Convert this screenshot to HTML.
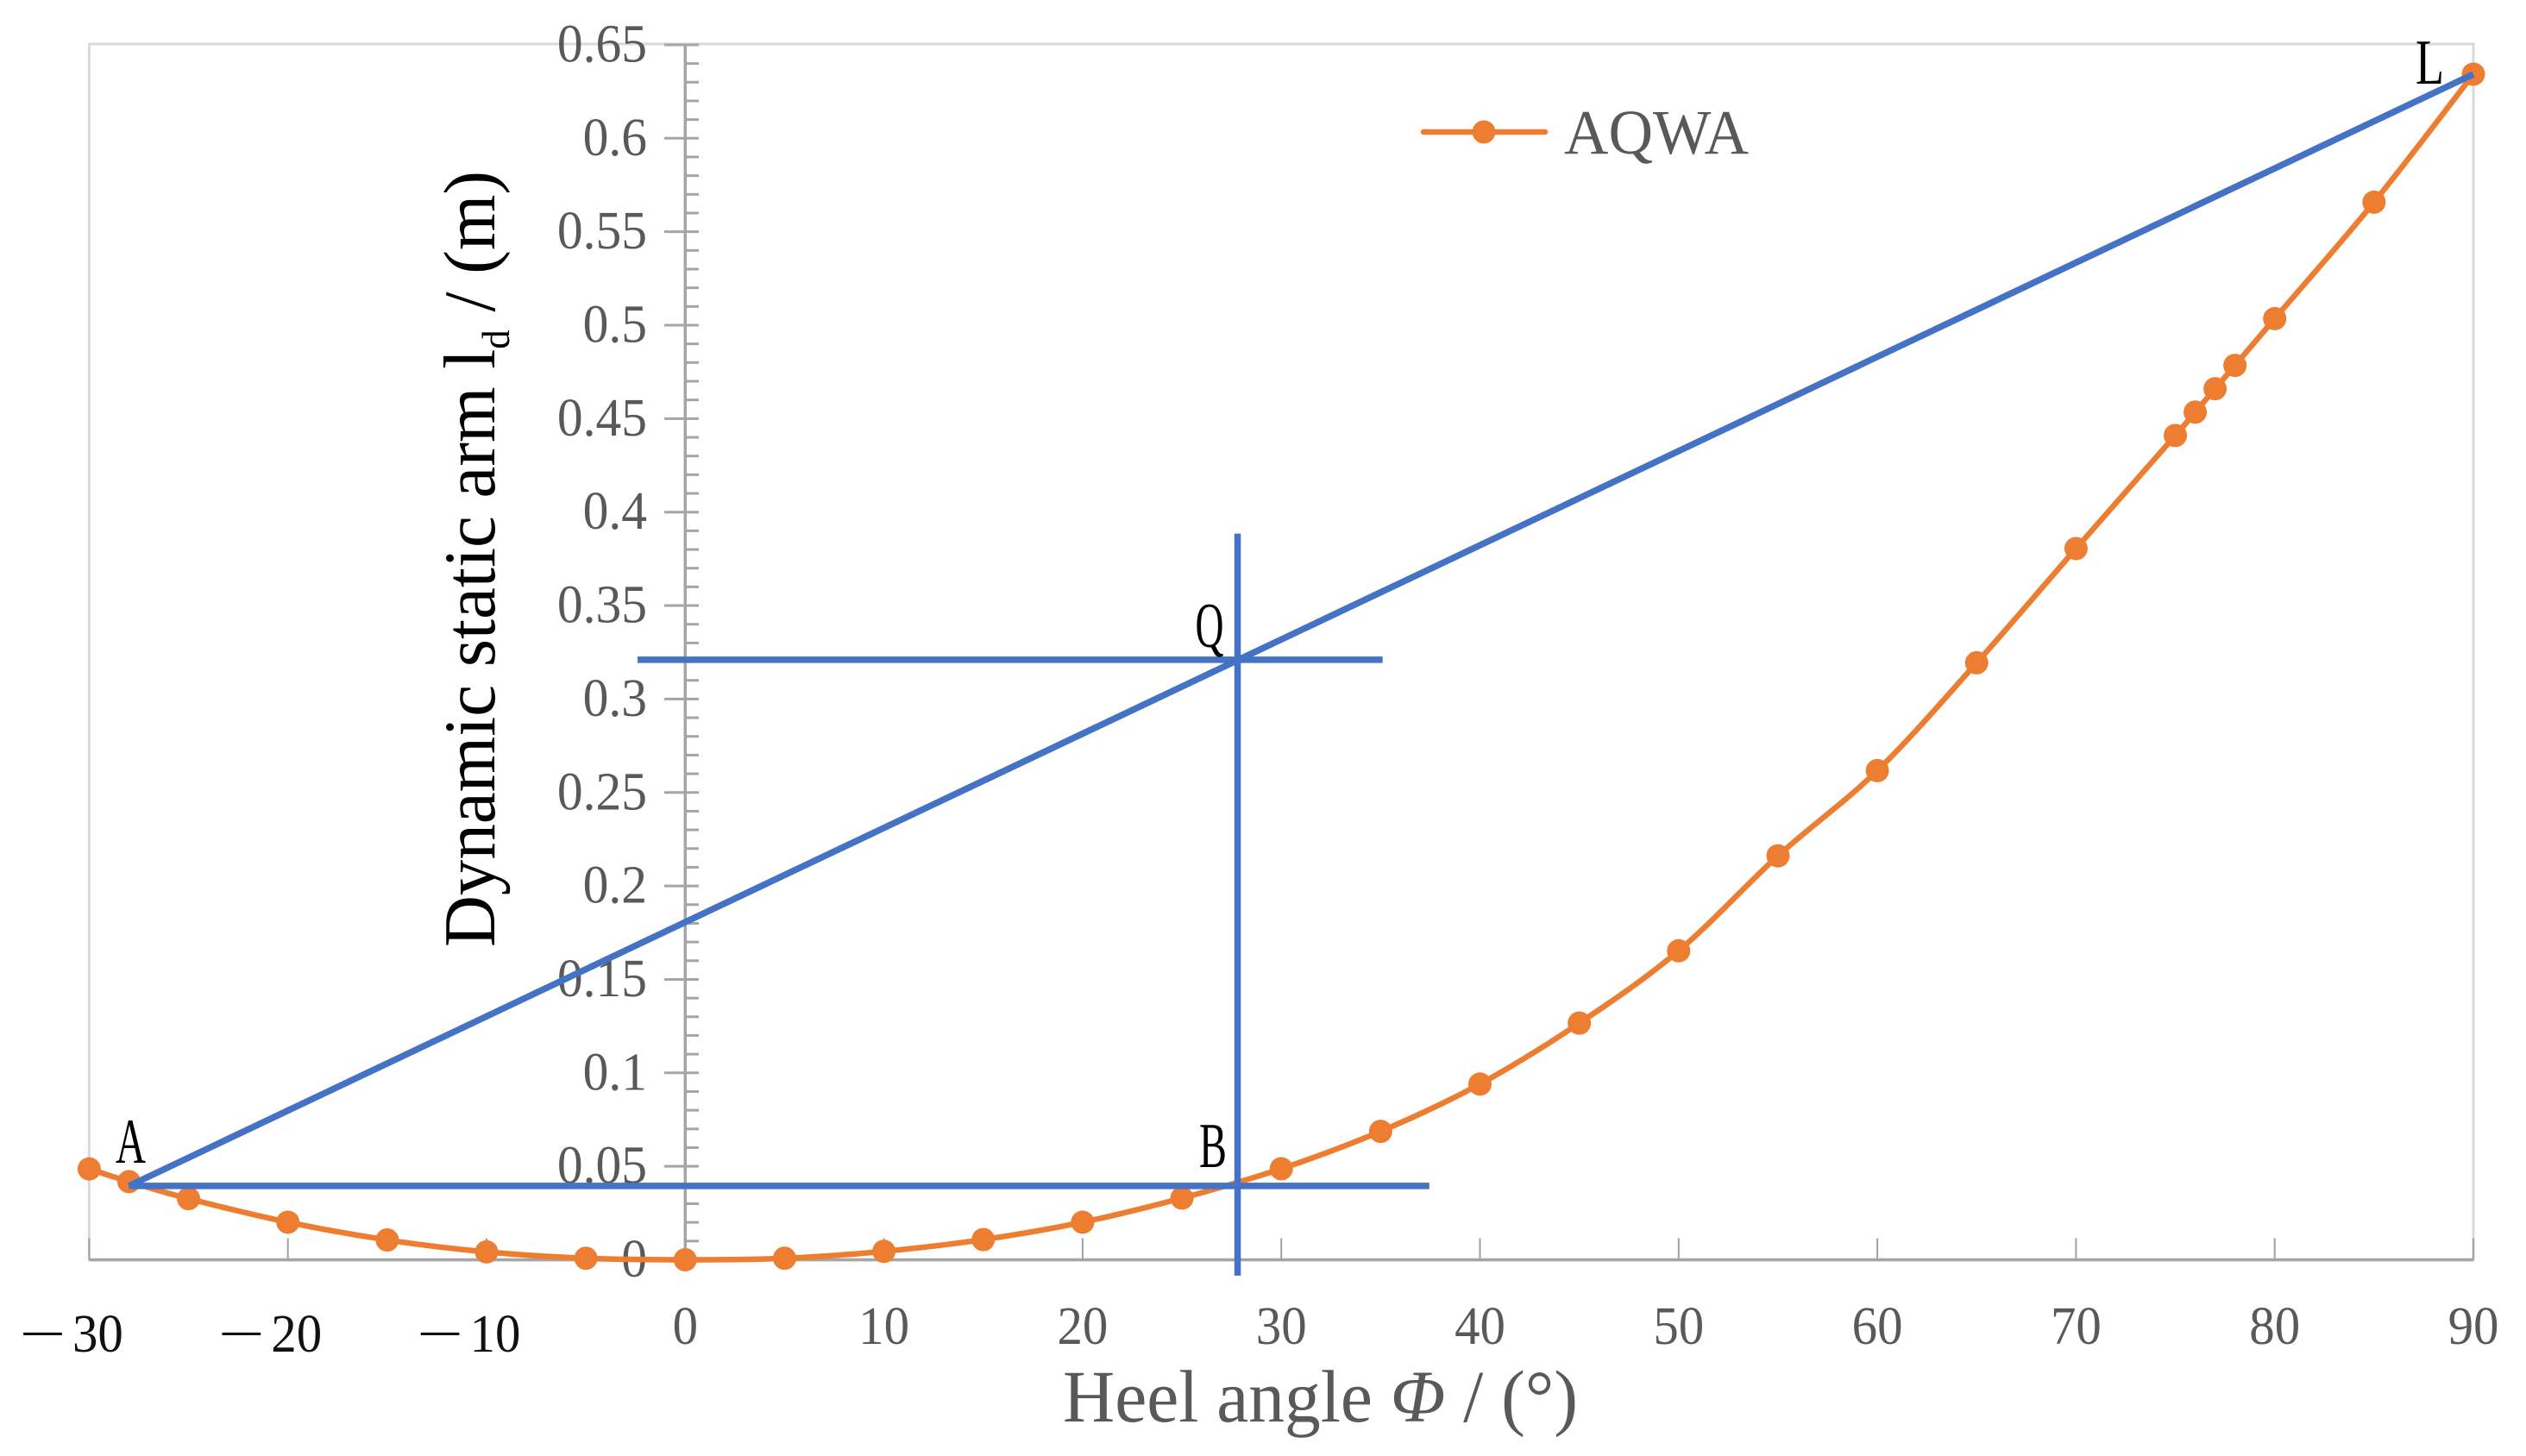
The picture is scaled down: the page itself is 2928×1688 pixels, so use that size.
<!DOCTYPE html>
<html lang="en">
<head>
<meta charset="utf-8">
<title>Dynamic static arm vs heel angle</title>
<style>
html,body{margin:0;padding:0;background:#fff;width:2928px;height:1688px;overflow:hidden}
svg{display:block}
text{font-family:"Liberation Serif",serif}
</style>
</head>
<body>
<svg id="chart" xmlns="http://www.w3.org/2000/svg" width="2928" height="1688" viewBox="0 0 2928 1688">
  <rect x="103.3" y="51" width="2763.7" height="1410" fill="none" stroke="#d9d9d9" stroke-width="3"/>
  <g id="axes"></g>
  <g id="series"></g>
  <g id="construction"></g>
  <g id="points"></g>
  <g>
    <line x1="1650" y1="153" x2="1791" y2="153" stroke="#ed7d31" stroke-width="6.5" stroke-linecap="round"/>
    <circle cx="1720" cy="153" r="13.5" fill="#ed7d31"/>
    <text x="1813" y="178" font-size="73" fill="#595959" textLength="214" lengthAdjust="spacingAndGlyphs">AQWA</text>
  </g>
  <text x="1232" y="1648" font-size="86" fill="#595959" textLength="597" lengthAdjust="spacingAndGlyphs">Heel angle <tspan font-style="italic">Φ</tspan> / (°)</text>
  <text transform="translate(573,1098) rotate(-90)" font-size="85" fill="#000" textLength="900" lengthAdjust="spacingAndGlyphs">Dynamic static arm l<tspan font-size="46" dy="17">d</tspan><tspan dy="-17"> / (m)</tspan></text>
</svg>
<script>
const xTickValues = [-30,-20,-10,0,10,20,30,40,50,60,70,80,90];
const yTickLabels = ["0","0.05","0.1","0.15","0.2","0.25","0.3","0.35","0.4","0.45","0.5","0.55","0.6","0.65"];
const yMinorTicks = [0.01,0.02,0.03,0.04];
const heelAngles = [-30,-28,-25,-20,-15,-10,-5,0,5,10,15,20,25,30,35,40,45,50,55,60,65,70,75,76,77,78,80,85,90];
const dynamicArm = [0.0486,0.0418,0.0327,0.0201,0.0106,0.0042,0.0008,0,0.0008,0.0045,0.0108,0.0201,0.033,0.0487,0.0687,0.094,0.1266,0.1653,0.2161,0.2617,0.3194,0.3805,0.441,0.4535,0.466,0.4785,0.5035,0.5658,0.6343];
const tangentX = [-28,90];
const tangentY = [0.0395,0.6343];
const baseLineX = [-28,37.45];
const baseLineY = [0.0395,0.0395];
const levelLineX = [-2.4,35.1];
const levelLineY = [0.321,0.321];
const verticalLineX = [27.8,27.8];
const verticalLineY = [-0.0085,0.3885];
const pointNames = ["A","B","Q","L"];
const pointAnchorX = [-28,27.8,27.8,90];
const pointAnchorY = [0.0395,0.0395,0.321,0.6343];

const NS = "http://www.w3.org/2000/svg";
const sx = v => 794.3 + v * 23.03;
const sy = v => 1460.5 - v * 2167;
const axes = document.getElementById("axes");
const series = document.getElementById("series");
const construction = document.getElementById("construction");
const points = document.getElementById("points");

function make(tag, attrs, parent) {
  const el = document.createElementNS(NS, tag);
  for (const k in attrs) el.setAttribute(k, attrs[k]);
  parent.appendChild(el);
  return el;
}

const xAxis = make("line", {x1:sx(-30),y1:sy(0),x2:sx(90),y2:sy(0),stroke:"#a5a5a5","stroke-width":3.5}, axes);


const yAxis = make("line", {x1:sx(0),y1:sy(0),x2:sx(0),y2:sy(0.65),stroke:"#a5a5a5","stroke-width":3.5}, axes);



xTickValues.forEach(v => {
  const tick = make("line", {x1:sx(v),y1:sy(0),x2:sx(v),y2:sy(0)-25,stroke:"#a0a0a0","stroke-width":2}, axes);
  
  
  const neg = v < 0;
  const label = make("text", {"font-size":62,fill:neg?"#111":"#595959","text-anchor":"middle",
    transform:"translate(" + (neg ? sx(v) + 10 : sx(v)) + "," + (neg ? 1567 : 1558) + ") scale(.95,1)"}, axes);
  label.textContent = String(Math.abs(v));
  
  
  if (neg) {
    const minus = make("text", {"font-size":62,fill:"#111","text-anchor":"middle",
      transform:"translate(" + (sx(v) - 54) + ",1567) scale(1.55,1)"}, axes);
    minus.textContent = "\u2212";
    
    
  }
});

yTickLabels.forEach(s => {
  const v = parseFloat(s);
  const tick = make("line", {x1:770,y1:sy(v),x2:810,y2:sy(v),stroke:"#a5a5a5","stroke-width":3}, axes);
  
  
  const label = make("text", {"font-size":62,fill:"#595959","text-anchor":"end",
    transform:"translate(750," + (sy(v) + 19.5) + ") scale(.96,1)"}, axes);
  label.textContent = s;
  
  
  if (v < 0.65) {
    yMinorTicks.forEach(m => {
      const minor = make("line", {x1:795,y1:sy(v + m),x2:810,y2:sy(v + m),stroke:"#a5a5a5","stroke-width":3}, axes);
      
      
    });
  }
});

/* smooth curve through the data (Catmull-Rom) */
const px = heelAngles.map(sx);
const py = dynamicArm.map(sy);
let d = "M" + px[0] + " " + py[0];
for (let i = 0; i < px.length - 1; i++) {
  const i0 = Math.max(i - 1, 0), i3 = Math.min(i + 2, px.length - 1);
  const c1x = px[i] + (px[i + 1] - px[i0]) / 6, c1y = py[i] + (py[i + 1] - py[i0]) / 6;
  const c2x = px[i + 1] - (px[i3] - px[i]) / 6, c2y = py[i + 1] - (py[i3] - py[i]) / 6;
  d += "C" + c1x + " " + c1y + " " + c2x + " " + c2y + " " + px[i + 1] + " " + py[i + 1];
}
const curve = make("path", {d:d,fill:"none",stroke:"#ed7d31","stroke-width":6.5,"stroke-linejoin":"round"}, series);


heelAngles.forEach((a, i) => {
  const marker = make("circle", {cx:sx(a),cy:sy(dynamicArm[i]),r:13.5,fill:"#ed7d31"}, series);
  
  
});

function blueLine(xs, ys, name) {
  const line = make("line", {x1:sx(xs[0]),y1:sy(ys[0]),x2:sx(xs[1]),y2:sy(ys[1]),stroke:"#4472c4","stroke-width":7.5}, construction);
  
  
}
blueLine(tangentX, tangentY, 'tangent-line-al');
blueLine(baseLineX, baseLineY, 'horizontal-line-ab');
blueLine(levelLineX, levelLineY, 'horizontal-line-q');
blueLine(verticalLineX, verticalLineY, 'vertical-line-bq');

const pointDx = [-15.5,-44.5,-49,-67];
const pointDy = [-27,-22,-15,11];
const pointWidths = [35,32,33,33];
pointNames.forEach((n, i) => {
  const label = make("text", {x:sx(pointAnchorX[i]) + pointDx[i],y:sy(pointAnchorY[i]) + pointDy[i],"font-size":74,fill:"#000",
    textLength:pointWidths[i],lengthAdjust:"spacingAndGlyphs"}, points);
  label.textContent = n;
  
  
});
</script>
</body>
</html>
